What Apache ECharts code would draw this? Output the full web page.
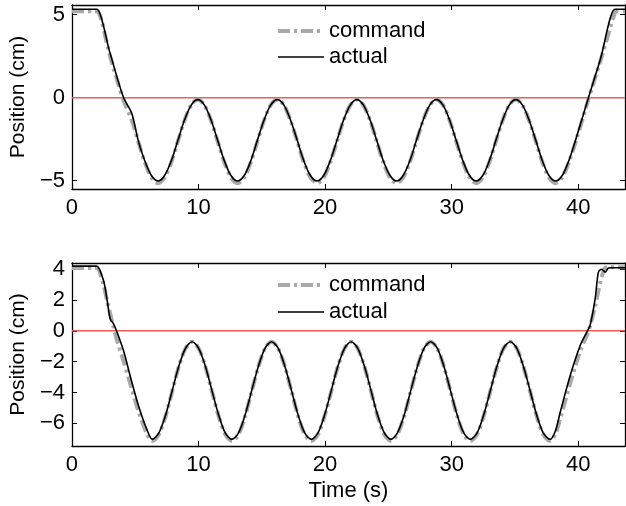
<!DOCTYPE html>
<html><head><meta charset="utf-8">
<script src="https://cdn.jsdelivr.net/npm/echarts@6/dist/echarts.min.js"></script>
<style>html,body{margin:0;padding:0;background:#fff}#c{width:626px;height:506px}</style>
</head><body><div id="c"></div>
<script>
const seriesNames = ['command', 'actual'];
const xTicks = [0, 10, 20, 30, 40];
const yTicksTop = [-5, 0, 5];
const yTicksBottom = [-6, -4, -2, 0, 2, 4];
const zeroLevel = 0;

const timeTop = [0, 1.8, 1.97, 3.0, 4.05, 4.72,
  5.23, 5.75, 6.28, 6.80, 7.32, 7.85, 8.37, 8.89, 9.42, 9.94, 10.47, 10.99, 11.51, 12.04, 12.56,
  13.08, 13.61, 14.13, 14.65, 15.18, 15.70, 16.23, 16.75, 17.27, 17.80, 18.32, 18.84,
  19.37, 19.89, 20.41, 20.94, 21.46, 21.99, 22.51, 23.03, 23.56, 24.08, 24.60, 25.13,
  25.65, 26.17, 26.70, 27.22, 27.75, 28.27, 28.79, 29.32, 29.84, 30.36, 30.89, 31.41,
  31.93, 32.46, 32.98, 33.50, 34.03, 34.55, 35.08, 35.60, 36.12, 36.65, 37.17, 37.69,
  38.22, 38.74, 39.26, 39.79, 40.81, 41.75, 42.9, 43.1, 43.7];
const commandTop = [5.2, 5.2, 5.2, 2.52, -0.13, -1.35,
  -2.63, -3.89, -4.81, -5.15, -4.81, -3.89, -2.63, -1.37, -0.45, -0.11, -0.45, -1.37, -2.63, -3.89, -4.81,
  -5.15, -4.81, -3.89, -2.63, -1.37, -0.45, -0.11, -0.45, -1.37, -2.63, -3.89, -4.81,
  -5.15, -4.81, -3.89, -2.63, -1.37, -0.45, -0.11, -0.45, -1.37, -2.63, -3.89, -4.81,
  -5.15, -4.81, -3.89, -2.63, -1.37, -0.45, -0.11, -0.45, -1.37, -2.63, -3.89, -4.81,
  -5.15, -4.81, -3.89, -2.63, -1.37, -0.45, -0.11, -0.45, -1.37, -2.63, -3.89, -4.81,
  -5.15, -4.81, -3.89, -2.70, -0.1, 2.2, 5.1, 5.2, 5.2];
const actualTop = [5.32, 5.32, 5.32, 2.70, 0.05, -0.94,
  -2.57, -3.80, -4.69, -5.02, -4.69, -3.80, -2.57, -1.35, -0.45, -0.12, -0.45, -1.35, -2.57, -3.80, -4.69,
  -5.02, -4.69, -3.80, -2.57, -1.35, -0.45, -0.12, -0.45, -1.35, -2.57, -3.80, -4.69,
  -5.02, -4.69, -3.80, -2.57, -1.35, -0.45, -0.12, -0.45, -1.35, -2.57, -3.80, -4.69,
  -5.02, -4.69, -3.80, -2.57, -1.35, -0.45, -0.12, -0.45, -1.35, -2.57, -3.80, -4.69,
  -5.02, -4.69, -3.80, -2.57, -1.35, -0.45, -0.12, -0.45, -1.35, -2.57, -3.80, -4.69,
  -5.02, -4.69, -3.80, -2.57, 0, 2.3, 5.32, 5.32, 5.32];

const timeBottom = [0, 1.8, 1.97, 2.49, 2.76, 3.02, 3.28, 3.54, 4.07, 4.59, 5.25, 5.9,
  6.35, 6.87, 7.40, 7.92, 8.44, 8.97, 9.49, 10.01, 10.54, 11.06, 11.59, 12.11,
  12.63, 13.16, 13.68, 14.20, 14.73, 15.25, 15.77, 16.30, 16.82, 17.35, 17.87, 18.39,
  18.92, 19.44, 19.96, 20.49, 21.01, 21.54, 22.06, 22.58, 23.11, 23.63, 24.15, 24.68,
  25.20, 25.72, 26.25, 26.77, 27.30, 27.82, 28.34, 28.87, 29.39, 29.91, 30.44, 30.96,
  31.48, 32.01, 32.53, 33.06, 33.58, 34.10, 34.63, 35.15, 35.67, 36.20, 36.72, 37.24,
  37.77, 38.2, 38.58, 39.37, 40.16, 40.68, 40.94, 41.34, 41.6, 41.86, 42.13, 42.39, 42.6, 43.7];
const commandBottom = [4.08, 4.08, 4.08, 3.0, 2.0, 1.1, 0.25, -0.55, -1.95, -3.4, -5.2, -6.65,
  -7.15, -6.72, -5.54, -3.93, -2.32, -1.14, -0.71, -1.14, -2.32, -3.93, -5.54, -6.72,
  -7.15, -6.72, -5.54, -3.93, -2.32, -1.14, -0.71, -1.14, -2.32, -3.93, -5.54, -6.72,
  -7.15, -6.72, -5.54, -3.93, -2.32, -1.14, -0.71, -1.14, -2.32, -3.93, -5.54, -6.72,
  -7.15, -6.72, -5.54, -3.93, -2.32, -1.14, -0.71, -1.14, -2.32, -3.93, -5.54, -6.72,
  -7.15, -6.72, -5.54, -3.93, -2.32, -1.14, -0.71, -1.14, -2.32, -3.93, -5.54, -6.72,
  -7.15, -6.7, -5.7, -3.4, -1.3, -0.3, 0.3, 1.6, 2.6, 3.5, 4.1, 4.14, 4.14, 4.14];
const actualBottom = [4.21, 4.21, 4.21, 3.28, 2.08, 0.78, 0.46, -0.04, -1.28, -2.9, -4.85, -6.37,
  -7.05, -6.63, -5.47, -3.88, -2.30, -1.13, -0.71, -1.13, -2.30, -3.88, -5.47, -6.63,
  -7.05, -6.63, -5.47, -3.88, -2.30, -1.13, -0.71, -1.13, -2.30, -3.88, -5.47, -6.63,
  -7.05, -6.63, -5.47, -3.88, -2.30, -1.13, -0.71, -1.13, -2.30, -3.88, -5.47, -6.63,
  -7.05, -6.63, -5.47, -3.88, -2.30, -1.13, -0.71, -1.13, -2.30, -3.88, -5.47, -6.63,
  -7.05, -6.63, -5.47, -3.88, -2.30, -1.13, -0.71, -1.13, -2.30, -3.88, -5.47, -6.63,
  -7.05, -6.5, -5.29, -2.9, -0.95, -0.08, 0.35, 2.08, 3.82, 4.0, 3.82, 4.08, 4.1, 4.1];

const X_MAX = 43.7;
const FONT = '"Liberation Sans", Arial, Helvetica, sans-serif';
const pts = (ts, vs) => ts.map((t, i) => [t, vs[i]]);
const minus = v => String(v).replace('-', '\u2212');

const CMD_STYLE = { color: '#a9a9a9', width: 4, type: [12, 4, 3, 4] };
const ACT_STYLE = { color: '#000', width: 1.6, type: 'solid' };

const axisLine = { show: true, onZero: false, lineStyle: { color: '#000', width: 1.3 } };
const tick = vals => ({ show: true, inside: true, length: 5, customValues: vals, lineStyle: { color: '#000', width: 1 } });
const label = (vals, extra) => Object.assign({ show: true, customValues: vals, fontSize: 22, color: '#000', fontFamily: FONT }, extra || {});

function xAxes(g, withName) {
  return [
    Object.assign({ type: 'value', gridIndex: g, position: 'bottom', min: 0, max: X_MAX,
      axisLine, axisTick: tick(xTicks), axisLabel: label(xTicks, { margin: 8 }), splitLine: { show: false } },
      withName ? { name: 'Time (s)', nameLocation: 'middle', nameGap: 34,
        nameTextStyle: { fontSize: 22, color: '#000', fontFamily: FONT } } : {}),
    { type: 'value', gridIndex: g, position: 'top', min: 0, max: X_MAX,
      axisLine, axisTick: tick(xTicks), axisLabel: { show: false }, splitLine: { show: false } }
  ];
}
function yAxes(g, mn, mx, ticks) {
  return [
    { type: 'value', gridIndex: g, position: 'left', min: mn, max: mx,
      name: 'Position (cm)', nameLocation: 'middle', nameGap: 42,
      nameTextStyle: { fontSize: 21, color: '#000', fontFamily: FONT },
      axisLine, axisTick: tick(ticks), axisLabel: label(ticks, { margin: 7, formatter: minus }), splitLine: { show: false } },
    { type: 'value', gridIndex: g, position: 'right', min: mn, max: mx,
      axisLine, axisTick: tick(ticks), axisLabel: { show: false }, splitLine: { show: false } }
  ];
}

function seriesFor(g, ts, cmd, act) {
  const common = { type: 'line', xAxisIndex: g * 2, yAxisIndex: g * 2, symbol: 'none', smooth: 0.3 };
  return [
    { type: 'line', xAxisIndex: g * 2, yAxisIndex: g * 2, name: 'zero', silent: true, symbol: 'none', z: 1,
      data: [[0, zeroLevel], [X_MAX, zeroLevel]], lineStyle: { color: '#f05a5a', width: 1.5 } },
    Object.assign({}, common, { name: seriesNames[0], z: 2, data: pts(ts, cmd), lineStyle: CMD_STYLE, itemStyle: { color: '#a9a9a9' } }),
    Object.assign({}, common, { name: seriesNames[1], z: 3, data: pts(ts, act), lineStyle: ACT_STYLE, itemStyle: { color: '#000' } })
  ];
}

const legendBase = { orient: 'vertical', itemWidth: 46, itemHeight: 14, selectedMode: false,
  data: [
    { name: seriesNames[0], lineStyle: CMD_STYLE },
    { name: seriesNames[1], lineStyle: ACT_STYLE }
  ],
  itemStyle: { color: 'rgba(0,0,0,0)', borderColor: 'rgba(0,0,0,0)', borderWidth: 0, opacity: 0 },
  textStyle: { fontSize: 22, lineHeight: 22, color: '#000', fontFamily: FONT }, padding: 0 };

const chart = echarts.init(document.getElementById('c'), null, { renderer: 'canvas' });
chart.setOption({
  animation: false,
  backgroundColor: '#fff',
  grid: [
    { left: 70, top: 5, width: 555, height: 184 },
    { left: 70, top: 263, width: 555, height: 183 }
  ],
  legend: [
    Object.assign({}, legendBase, { left: 276, top: 20, itemGap: 4 }),
    Object.assign({}, legendBase, { left: 276, top: 274, itemGap: 5 })
  ],
  xAxis: [...xAxes(0, false), ...xAxes(1, true)],
  yAxis: [...yAxes(0, -5.5, 5.58, yTicksTop), ...yAxes(1, -7.48, 4.41, yTicksBottom)],
  series: [...seriesFor(0, timeTop, commandTop, actualTop), ...seriesFor(1, timeBottom, commandBottom, actualBottom)]
});
</script></body></html>
